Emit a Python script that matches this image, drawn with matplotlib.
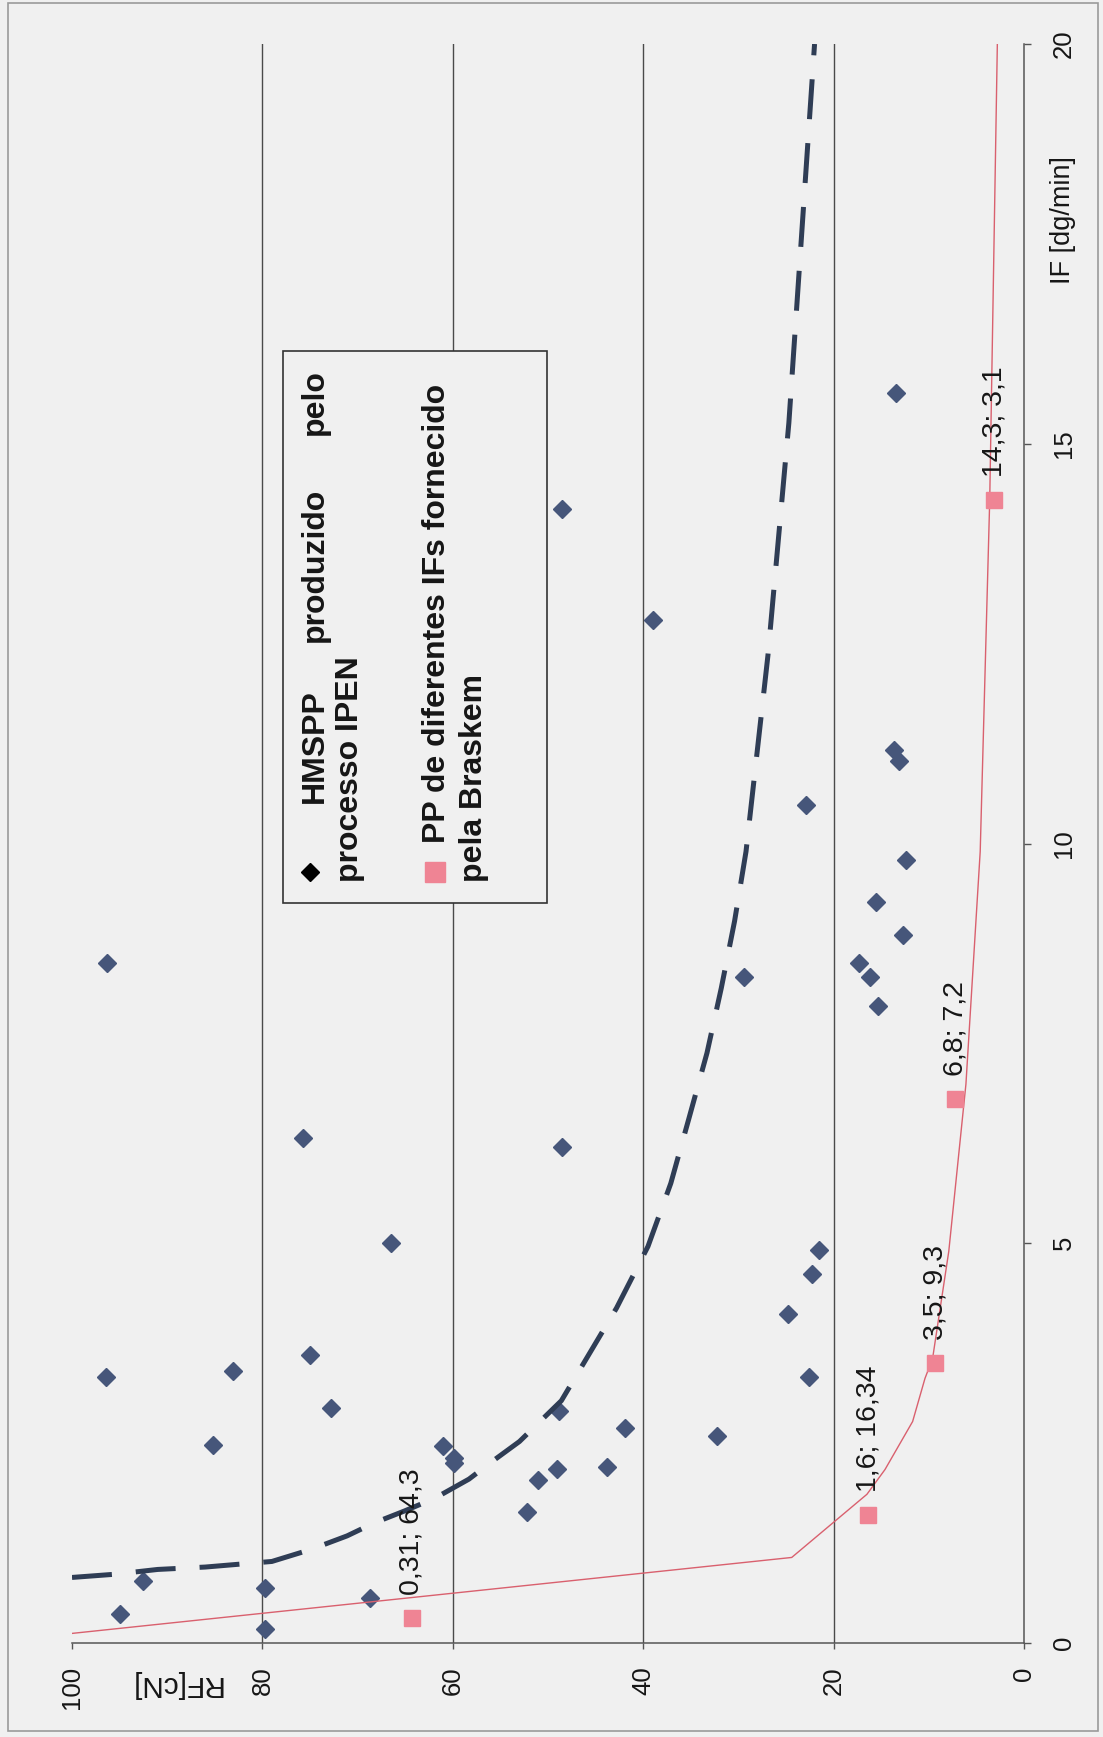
import matplotlib
matplotlib.use("Agg")
import matplotlib.pyplot as plt
from matplotlib.patches import Rectangle
from matplotlib.lines import Line2D

plt.rcParams['font.family'] = ['Liberation Sans', 'DejaVu Sans']

# HMSPP produced by the IPEN process: melt flow index IF [dg/min] vs melt strength RF [cN]
hmspp_if = [8.51, 6.32, 5.00, 14.18, 6.20, 12.79, 10.48, 15.63, 11.17, 11.03,
            9.79, 8.86, 9.27, 8.50, 8.33, 7.97, 8.33, 4.92, 4.62, 4.12,
            3.33, 3.33, 3.40, 3.60, 2.94, 2.48, 2.90, 2.69, 2.59, 2.47,
            2.31, 2.25, 2.18, 2.20, 2.04, 1.64, 0.78, 0.69, 0.36, 0.56, 0.17]
hmspp_rf = [96.3, 75.7, 66.5, 48.5, 48.5, 39.0, 22.9, 13.4, 13.7, 13.1,
            12.4, 12.7, 15.5, 17.3, 16.2, 15.3, 29.4, 21.5, 22.3, 24.8,
            22.6, 96.4, 83.1, 75.0, 72.8, 85.2, 48.8, 41.9, 32.3, 61.0,
            59.9, 59.9, 49.1, 43.8, 51.0, 52.2, 92.5, 79.7, 95.0, 68.7, 79.7]

# Braskem PP grades with different IF values
pp_if = [0.31, 1.6, 3.5, 6.8, 14.3]
pp_rf = [64.3, 16.34, 9.3, 7.2, 3.1]

# Trend curves (vertices of the plotted polylines)
hm_trend_if = [0.82, 0.86, 0.92, 0.95, 1.02, 1.17, 1.34, 1.50, 1.65, 1.81, 2.05,
               2.25, 2.52, 3.03, 4.19, 4.96, 5.75, 6.56, 7.38, 8.19, 9.03, 9.90,
               12.35, 15.26, 20.0]
hm_trend_rf = [100.0, 95.5, 91.0, 86.0, 79.0, 74.9, 71.1, 68.3, 65.1, 61.9, 58.3,
               56.1, 53.0, 48.6, 42.8, 39.5, 37.1, 35.2, 33.3, 31.8, 30.4, 29.2,
               26.9, 24.7, 22.0]
pp_trend_if = [0.12, 1.07, 1.49, 1.86, 2.17, 2.77, 3.31, 3.56, 4.90, 6.99, 9.90, 14.3, 20.0]
pp_trend_rf = [100.0, 24.4, 20.2, 16.5, 14.6, 11.7, 10.4, 9.6, 7.9, 6.1, 4.6, 3.6, 2.8]

rf_ticks = [100, 80, 60, 40, 20, 0]
if_ticks = [0, 5, 10, 15, 20]

BG = '#f0f0f0'
AXIS = '#555555'
GRID = '#4a4a4a'
BLUE = '#46567a'
DASH = '#2f3d55'
PINK = '#ef8494'
RED = '#d9606e'
TXT = '#161616'

W, H = 1103, 1737
fig = plt.figure(figsize=(W / 100, H / 100), dpi=100, facecolor=BG)


def fx(px):
    return px / W


def fy(py):
    return 1 - py / H


# Plot area: RF runs right-to-left along the bottom, IF runs upward on the right
ax = fig.add_axes([fx(72), fy(1643), fx(1024) - fx(72), fy(44) - fy(1643)])
ax.set_facecolor(BG)
ax.set_xlim(100, 0)
ax.set_ylim(0, 20)

for s in ('top', 'left'):
    ax.spines[s].set_visible(False)
for s in ('bottom', 'right'):
    ax.spines[s].set_color(AXIS)
    ax.spines[s].set_linewidth(1.1)

ax.set_xticks(rf_ticks)
ax.set_xticklabels([str(t) for t in rf_ticks], rotation=90, fontsize=18.5, color=TXT)
ax.yaxis.tick_right()
ax.set_yticks(if_ticks)
ax.set_yticklabels([str(t) for t in if_ticks], rotation=90, va='center', ha='left',
                   fontsize=18.5, color=TXT)
ax.tick_params(axis='x', direction='out', length=4.3, width=1, color=AXIS, pad=12.5)
ax.tick_params(axis='y', direction='out', length=5, width=1, color=AXIS, pad=15)

for v in rf_ticks[1:-1]:
    ax.axvline(v, color=GRID, lw=1.0, zorder=1)

# Measured points
ax.plot(hmspp_rf, hmspp_if, ls='none', marker='D', ms=9, color=BLUE, mec=BLUE, zorder=3)
ax.plot(pp_rf, pp_if, ls='none', marker='s', ms=12, color=PINK, mec=PINK, zorder=5)

# Trend curves
ax.plot(hm_trend_rf, hm_trend_if, color=DASH, lw=3.6, dashes=(8, 4.8),
        dash_capstyle='butt', zorder=4)
ax.plot(pp_trend_rf, pp_trend_if, color=RED, lw=1.0, zorder=4)

# Value labels on the Braskem points
for xi, yi in zip(pp_if, pp_rf):
    lbl = f"{xi:g}; {yi:g}".replace('.', ',')
    ax.annotate(lbl, (yi, xi), xytext=(0, 23), textcoords='offset pixels',
                rotation=90, ha='center', va='bottom', fontsize=20.5, color=TXT,
                zorder=6, annotation_clip=False)

# Axis titles
fig.text(fx(175), fy(1684), 'RF[cN]', rotation=180, ha='center', va='center',
         fontsize=21.5, color=TXT)
fig.text(fx(1070), fy(220), 'IF [dg/min]', rotation=90, rotation_mode='anchor',
         ha='center', va='baseline', fontsize=19.5, color=TXT)

# Legend box
fig.add_artist(Rectangle((fx(283), fy(903)), fx(546.5) - fx(283), fy(351) - fy(903),
                         transform=fig.transFigure, facecolor=BG, edgecolor='#333333',
                         lw=1.2, zorder=5))
fig.add_artist(Line2D([fx(310)], [fy(872)], transform=fig.transFigure, ls='none',
                      marker='D', ms=9, color='#000000', zorder=6))
fig.add_artist(Line2D([fx(435)], [fy(872)], transform=fig.transFigure, ls='none',
                      marker='s', ms=15, color=PINK, mec=PINK, zorder=6))

legend_words = [
    ('HMSPP', 323, 803),
    ('produzido', 323, 642),
    ('pelo', 323, 435),
    ('processo IPEN', 358, 882),
    ('PP de diferentes IFs fornecido', 445, 843),
    ('pela Braskem', 482, 882),
]
for word, bx, by in legend_words:
    fig.text(fx(bx), fy(by), word, rotation=90, rotation_mode='anchor',
             ha='left', va='baseline', fontsize=23, fontweight='bold',
             color=TXT, zorder=7)

# Outer chart border
fig.add_artist(Rectangle((fx(8), fy(1731)), fx(1098) - fx(8), fy(3) - fy(1731),
                         transform=fig.transFigure, fill=False, edgecolor='#9a9a9a',
                         lw=1.2, zorder=8))

fig.savefig('out.png', dpi=100, facecolor=BG)
